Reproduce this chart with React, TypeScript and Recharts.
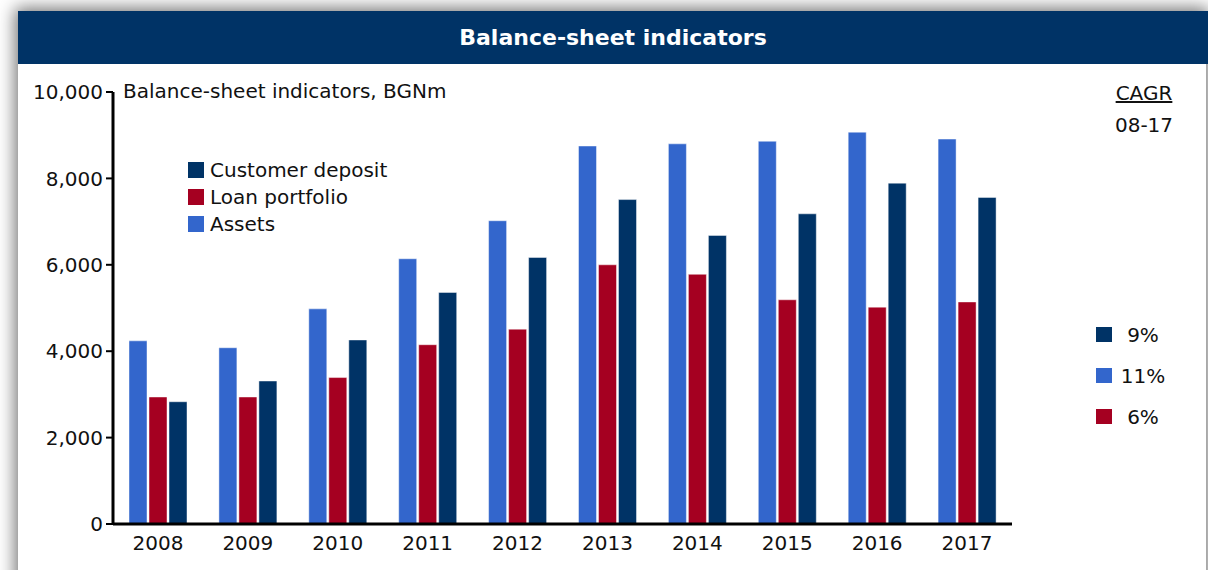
import { Bar, BarChart, Legend, XAxis, YAxis } from 'recharts';

const years = ['2008', '2009', '2010', '2011', '2012', '2013', '2014', '2015', '2016', '2017'];
const assets = [4240, 4080, 4980, 6140, 7020, 8750, 8800, 8860, 9070, 8910];
const loans = [2940, 2940, 3390, 4150, 4510, 6000, 5780, 5190, 5020, 5140];
const deposits = [2830, 3310, 4260, 5360, 6170, 7510, 6680, 7180, 7890, 7560];
const yTicks = [0, 2000, 4000, 6000, 8000, 10000];

const legendItems = [
    { name: 'Customer deposit', color: '#003366' },
    { name: 'Loan portfolio', color: '#a50021' },
    { name: 'Assets', color: '#3366cc' },
];

const cagrLabels = ['9%', '11%', '6%'];
const cagrColors = ['#003366', '#3366cc', '#a50021'];

const font = '"DejaVu Sans", Verdana, sans-serif';

const chartData = years.map((year, i) => ({
    year,
    assets: assets[i],
    loans: loans[i],
    deposits: deposits[i],
}));

const ChartLegend = () => (
    <div style={{ fontFamily: font, fontSize: 20, color: '#111' }}>
        {legendItems.map((item) => (
            <div key={item.name} style={{ display: 'flex', alignItems: 'center', height: 27 }}>
                <div style={{ width: 16, height: 16, background: item.color, marginRight: 6 }} />
                <span style={{ lineHeight: '20px' }}>{item.name}</span>
            </div>
        ))}
    </div>
);

export default function App() {
    return (
        <div style={{ position: 'absolute', left: 0, top: 0, width: 1208, height: 570, background: '#fff', overflow: 'hidden' }}>
            <div
                style={{
                    position: 'absolute',
                    left: 18,
                    top: 11,
                    width: 1188,
                    height: 600,
                    background: '#fff',
                    boxShadow: '0 0 16px 3px rgba(0,0,0,0.55)',
                }}
            />
            <div
                style={{
                    position: 'absolute',
                    left: 18,
                    top: 11,
                    width: 1190,
                    height: 53,
                    background: '#003366',
                    color: '#fff',
                    fontFamily: font,
                    fontWeight: 'bold',
                    fontSize: 22,
                    display: 'flex',
                    alignItems: 'center',
                    justifyContent: 'center',
                }}
            >
                Balance-sheet indicators
            </div>
            <div style={{ position: 'absolute', left: 0, top: 0 }}>
                <BarChart
                    width={1208}
                    height={570}
                    data={chartData}
                    margin={{ top: 92, right: 196, bottom: 16, left: 13 }}
                    barSize={18}
                    barGap={2}
                >
                    <XAxis
                        dataKey="year"
                        height={30}
                        axisLine={{ stroke: '#000', strokeWidth: 3 }}
                        tickLine={false}
                        tickMargin={6}
                        tick={{ fill: '#111', fontSize: 20, fontFamily: font }}
                    />
                    <YAxis
                        width={100}
                        domain={[0, 10000]}
                        ticks={yTicks}
                        interval={0}
                        axisLine={{ stroke: '#000', strokeWidth: 3 }}
                        tickLine={{ stroke: '#000', strokeWidth: 2 }}
                        tickSize={7}
                        tickMargin={3}
                        tickFormatter={(v: number) => v.toLocaleString('en-US')}
                        tick={{ fill: '#111', fontSize: 20, fontFamily: font }}
                    />
                    <Legend
                        layout="vertical"
                        align="center"
                        verticalAlign="middle"
                        content={() => <ChartLegend />}
                        wrapperStyle={{ left: 188, top: 156, width: 'auto', height: 'auto' }}
                    />
                    <Bar dataKey="assets" name="Assets" fill="#3366cc" stroke="rgba(255,255,255,0.45)" isAnimationActive={false} />
                    <Bar dataKey="loans" name="Loan portfolio" fill="#a50021" stroke="rgba(255,255,255,0.45)" isAnimationActive={false} />
                    <Bar dataKey="deposits" name="Customer deposit" fill="#003366" stroke="rgba(255,255,255,0.45)" isAnimationActive={false} />
                </BarChart>
            </div>
            <div
                style={{
                    position: 'absolute',
                    left: 123,
                    top: 81,
                    fontFamily: font,
                    fontSize: 20,
                    lineHeight: '20px',
                    color: '#111',
                    whiteSpace: 'nowrap',
                }}
            >
                Balance-sheet indicators, BGNm
            </div>
            <div
                style={{
                    position: 'absolute',
                    left: 1094,
                    width: 100,
                    top: 83,
                    fontFamily: font,
                    fontSize: 20,
                    lineHeight: '20px',
                    color: '#111',
                    textAlign: 'center',
                }}
            >
                <div style={{ textDecoration: 'underline' }}>CAGR</div>
                <div style={{ marginTop: 12 }}>08-17</div>
            </div>
            <div style={{ position: 'absolute', left: 1096, top: 314, fontFamily: font, fontSize: 20, color: '#111' }}>
                {cagrLabels.map((label, i) => (
                    <div key={label} style={{ display: 'flex', alignItems: 'center', height: 41 }}>
                        <div style={{ width: 16, height: 15, background: cagrColors[i] }} />
                        <div style={{ width: 62, textAlign: 'center', lineHeight: '20px' }}>{label}</div>
                    </div>
                ))}
            </div>
        </div>
    );
}
